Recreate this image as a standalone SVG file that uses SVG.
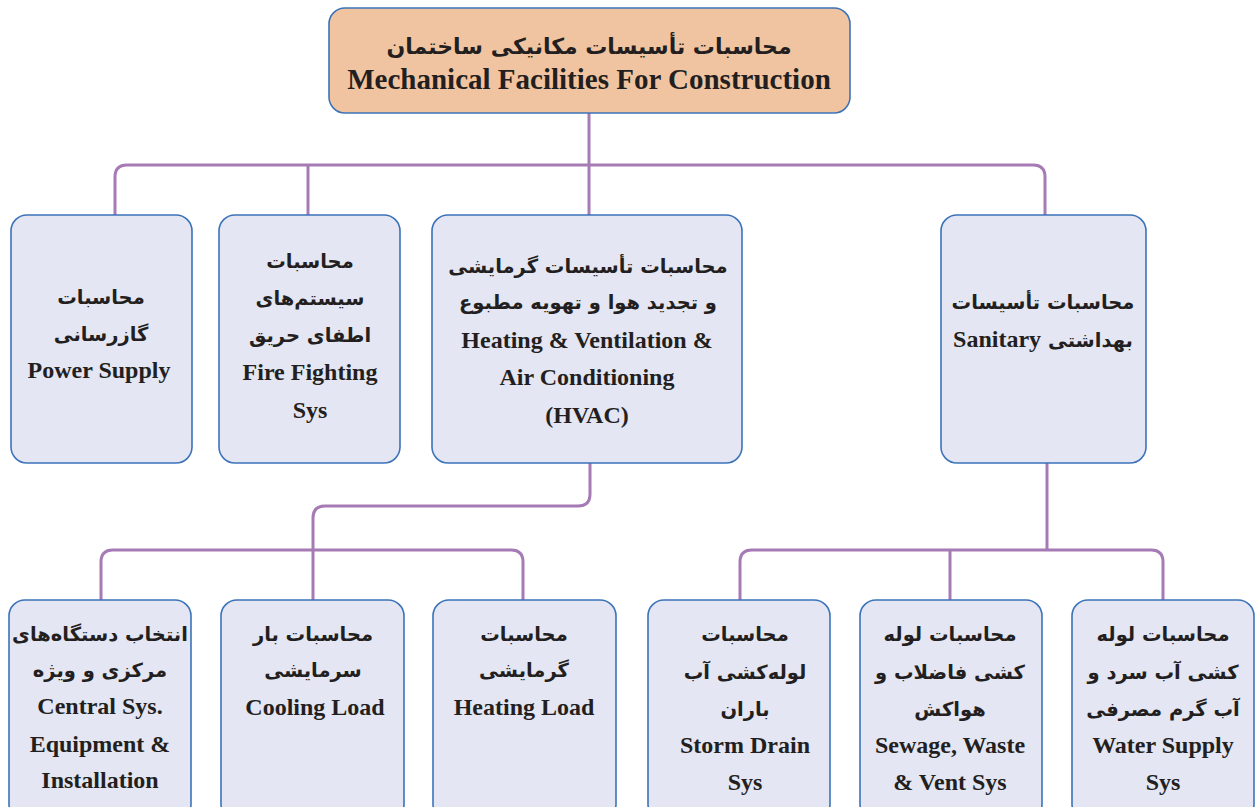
<svg xmlns="http://www.w3.org/2000/svg" width="1256" height="807" viewBox="0 0 1256 807">
<style>
.box{fill:#e4e6f3;stroke:#3b73b9;stroke-width:1.6}
.top{fill:#f1c4a1;stroke:#3b73b9;stroke-width:1.6}
.con{fill:none;stroke:#a57ab5;stroke-width:3}
text{fill:#231f20;text-anchor:middle;font-weight:bold}
.fa{font-family:"DejaVu Sans",sans-serif;font-size:19.5px;direction:rtl}
.en{font-family:"Liberation Serif",serif;font-size:24px}
.tfa{font-family:"DejaVu Sans",sans-serif;font-size:22px;direction:rtl}
.ten{font-family:"Liberation Serif",serif;font-size:29px}
</style>
<rect width="1256" height="807" fill="#ffffff"/>
<g id="connectors">
<path class="con" d="M589,113 V215"/>
<path class="con" d="M115,215 V177 Q115,165 127,165 H1033 Q1045,165 1045,177 V215"/>
<path class="con" d="M308,165 V215"/>
<path class="con" d="M590,463 V494 Q590,506 578,506 H325 Q313,506 313,518 V600"/>
<path class="con" d="M101,600 V562 Q101,550 113,550 H511 Q523,550 523,562 V600"/>
<path class="con" d="M1047,463 V550"/>
<path class="con" d="M740,600 V562 Q740,550 752,550 H1151 Q1163,550 1163,562 V600"/>
<path class="con" d="M950,550 V600"/>
</g>
<g id="root">
<rect class="top" x="329" y="8" width="521" height="105" rx="16"/>
<text class="tfa" x="589" y="54">محاسبات تأسیسات مکانیکی ساختمان</text>
<text class="ten" x="589" y="89">Mechanical Facilities For Construction</text>
</g>
<g id="power">
<rect class="box" x="11" y="215" width="181" height="248" rx="16"/>
<text class="fa" x="101" y="304">محاسبات</text>
<text class="fa" x="101" y="341">گازرسانی</text>
<text class="en" x="99" y="378">Power Supply</text>
</g>
<g id="fire">
<rect class="box" x="219" y="215" width="181" height="248" rx="16"/>
<text class="fa" x="310" y="268">محاسبات</text>
<text class="fa" x="310" y="305">سیستم‌های</text>
<text class="fa" x="310" y="342">اطفای حریق</text>
<text class="en" x="310" y="380">Fire Fighting</text>
<text class="en" x="310" y="418">Sys</text>
</g>
<g id="hvac">
<rect class="box" x="432" y="215" width="310" height="248" rx="16"/>
<text class="fa" x="588" y="273">محاسبات تأسیسات گرمایشی</text>
<text class="fa" x="588" y="309">و تجدید هوا و تهویه مطبوع</text>
<text class="en" x="587" y="348">Heating &amp; Ventilation &amp;</text>
<text class="en" x="587" y="385">Air Conditioning</text>
<text class="en" x="587" y="423">(HVAC)</text>
</g>
<g id="sanitary">
<rect class="box" x="941" y="215" width="205" height="248" rx="16"/>
<text class="fa" x="1043" y="309">محاسبات تأسیسات</text>
<text class="fa" x="1043" y="347">بهداشتی <tspan class="en">Sanitary</tspan></text>
</g>
<g id="central">
<rect class="box" x="9" y="600" width="182" height="220" rx="16"/>
<text class="fa" x="100" y="641">انتخاب دستگاه‌های</text>
<text class="fa" x="100" y="677">مرکزی و ویژه</text>
<text class="en" x="100" y="714">Central Sys.</text>
<text class="en" x="100" y="752">Equipment &amp;</text>
<text class="en" x="100" y="788">Installation</text>
</g>
<g id="cooling">
<rect class="box" x="221" y="600" width="183" height="220" rx="16"/>
<text class="fa" x="313" y="641">محاسبات بار</text>
<text class="fa" x="313" y="677">سرمایشی</text>
<text class="en" x="315" y="715">Cooling Load</text>
</g>
<g id="heating">
<rect class="box" x="433" y="600" width="183" height="220" rx="16"/>
<text class="fa" x="524" y="641">محاسبات</text>
<text class="fa" x="524" y="677">گرمایشی</text>
<text class="en" x="524" y="715">Heating Load</text>
</g>
<g id="storm">
<rect class="box" x="648" y="600" width="182" height="220" rx="16"/>
<text class="fa" x="745" y="641">محاسبات</text>
<text class="fa" x="745" y="679">لوله‌کشی آب</text>
<text class="fa" x="745" y="716">باران</text>
<text class="en" x="745" y="753">Storm Drain</text>
<text class="en" x="745" y="790">Sys</text>
</g>
<g id="sewage">
<rect class="box" x="860" y="600" width="182" height="220" rx="16"/>
<text class="fa" x="950" y="641">محاسبات لوله</text>
<text class="fa" x="950" y="679">کشی فاضلاب و</text>
<text class="fa" x="950" y="716">هواکش</text>
<text class="en" x="950" y="753">Sewage, Waste</text>
<text class="en" x="950" y="790">&amp; Vent Sys</text>
</g>
<g id="water">
<rect class="box" x="1072" y="600" width="182" height="220" rx="16"/>
<text class="fa" x="1163" y="641">محاسبات لوله</text>
<text class="fa" x="1163" y="679">کشی آب سرد و</text>
<text class="fa" x="1163" y="716">آب گرم مصرفی</text>
<text class="en" x="1163" y="753">Water Supply</text>
<text class="en" x="1163" y="790">Sys</text>
</g>
</svg>
